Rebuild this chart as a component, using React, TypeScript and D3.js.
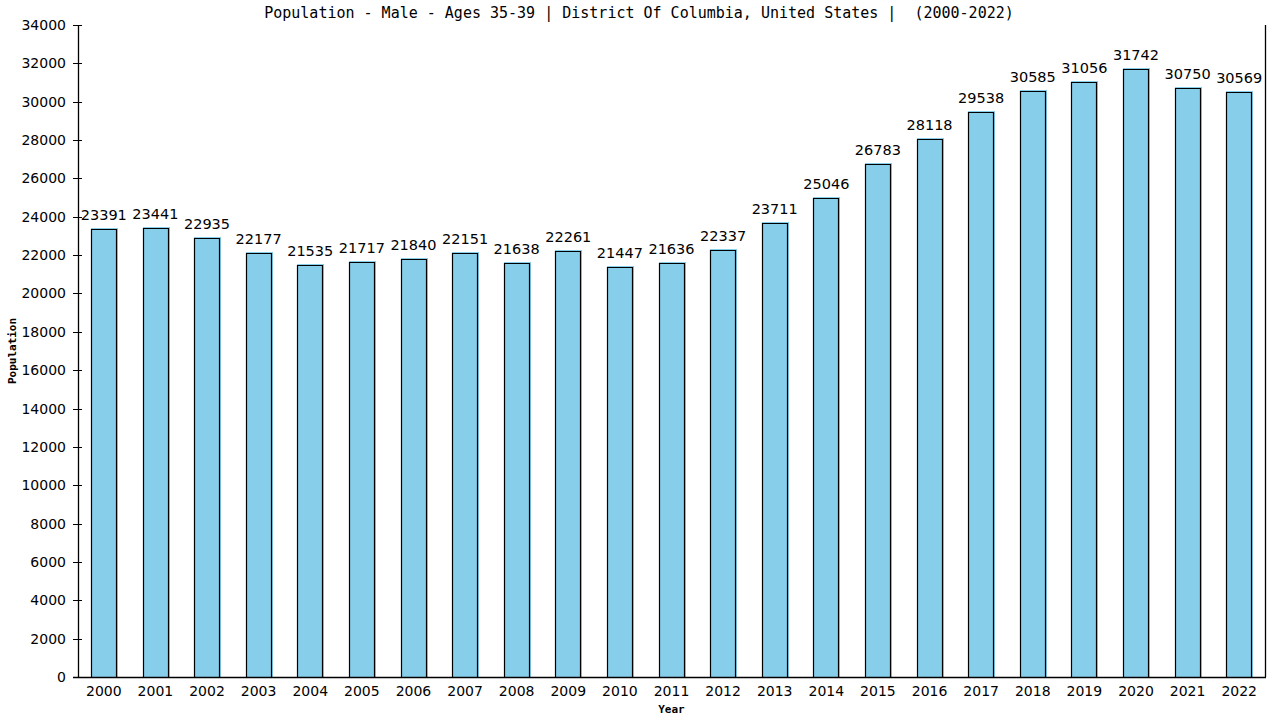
import React, { useEffect, useRef } from 'react';
import * as d3 from 'd3';

const years = [
  '2000', '2001', '2002', '2003', '2004', '2005', '2006', '2007', '2008', '2009', '2010', '2011',
  '2012', '2013', '2014', '2015', '2016', '2017', '2018', '2019', '2020', '2021', '2022'
];
const population = [
  23391, 23441, 22935, 22177, 21535, 21717, 21840, 22151, 21638, 22261, 21447, 21636,
  22337, 23711, 25046, 26783, 28118, 29538, 30585, 31056, 31742, 30750, 30569
];
const yTicks = d3.range(0, 34001, 2000);
const title = 'Population - Male - Ages 35-39 | District Of Columbia, United States |  (2000-2022)';

const width = 1280;
const height = 720;
const margins = { l: 78, t: 25, r: 15, b: 43 };

const BarChart = () => {
  const container = useRef(null);

  useEffect(() => {
    document.body.style.margin = '0';
    createChart();
  }, []);

  const createChart = () => {
    const svg = d3
      .select(container.current)
      .selectAll('svg')
      .data([0])
      .join('svg')
      .attr('width', width)
      .attr('height', height)
      .style('display', 'block')
      .style('background', '#fff');

    const plotwidth = width - margins.l - margins.r;
    const plotheight = height - margins.t - margins.b;

    const xScale = d3
      .scaleBand()
      .domain(years)
      .range([0, plotwidth])
      .paddingInner(0.5)
      .paddingOuter(0.25);
    const yScale = d3.scaleLinear().domain([0, 34000]).range([plotheight, 0]);

    const plotg = svg
      .selectAll('.plotg')
      .data([0])
      .join('g')
      .attr('class', 'plotg')
      .attr('transform', `translate(${margins.l},${margins.t})`);

    // bars: blue fill with black outline slightly inset
    plotg
      .selectAll('.bar-fill')
      .data(population)
      .join('rect')
      .attr('class', 'bar-fill')
      .attr('x', (d, i) => Math.round(xScale(years[i])))
      .attr('y', d => Math.round(yScale(d)))
      .attr('width', Math.round(xScale.bandwidth()) + 1)
      .attr('height', d => plotheight - Math.round(yScale(d)))
      .style('fill', '#87ceeb');

    plotg
      .selectAll('.bar-line')
      .data(population)
      .join('path')
      .attr('class', 'bar-line')
      .attr('d', (d, i) => {
        const x0 = Math.round(xScale(years[i])) + 0.5;
        const x1 = x0 + Math.round(xScale.bandwidth()) - 1;
        const y0 = Math.round(yScale(d)) + 1.5;
        return `M${x0},${plotheight}V${y0}H${x1}V${plotheight}`;
      })
      .style('fill', 'none')
      .style('stroke', '#000')
      .style('stroke-width', 1.2);

    plotg
      .selectAll('.bar-label')
      .data(population)
      .join('text')
      .attr('class', 'bar-label')
      .attr('x', (d, i) => xScale(years[i]) + xScale.bandwidth() / 2)
      .attr('y', d => yScale(d) - 8)
      .attr('text-anchor', 'middle')
      .style('font-family', 'DejaVu Sans')
      .style('font-size', '14.5px')
      .text(d => d);

    // y axis with crossing ticks
    const yaxisg = plotg.selectAll('.yaxisg').data([0]).join('g').attr('class', 'yaxisg');
    yaxisg
      .selectAll('.domain-line')
      .data([0])
      .join('line')
      .attr('class', 'domain-line')
      .attr('x1', 0.5)
      .attr('x2', 0.5)
      .attr('y1', 0)
      .attr('y2', plotheight)
      .style('stroke', '#000')
      .style('stroke-width', 1.3);
    yaxisg
      .selectAll('.ytick')
      .data(yTicks)
      .join('line')
      .attr('class', 'ytick')
      .attr('x1', -5)
      .attr('x2', 4)
      .attr('y1', d => Math.round(yScale(d)) + 0.5)
      .attr('y2', d => Math.round(yScale(d)) + 0.5)
      .style('stroke', '#000');
    yaxisg
      .selectAll('.ylabel')
      .data(yTicks)
      .join('text')
      .attr('class', 'ylabel')
      .attr('x', -12)
      .attr('y', d => yScale(d) + 5)
      .attr('text-anchor', 'end')
      .style('font-family', 'DejaVu Sans')
      .style('font-size', '14px')
      .text(d => d);

    // right border line
    plotg
      .selectAll('.right-line')
      .data([0])
      .join('line')
      .attr('class', 'right-line')
      .attr('x1', plotwidth + 0.5)
      .attr('x2', plotwidth + 0.5)
      .attr('y1', 0)
      .attr('y2', plotheight)
      .style('stroke', '#000')
      .style('stroke-width', 1.3);

    // x axis
    const xaxisg = plotg
      .selectAll('.xaxisg')
      .data([0])
      .join('g')
      .attr('class', 'xaxisg')
      .attr('transform', `translate(0,${plotheight})`);
    xaxisg
      .selectAll('.domain-line')
      .data([0])
      .join('line')
      .attr('class', 'domain-line')
      .attr('x1', -5)
      .attr('x2', plotwidth + 1)
      .attr('y1', 0.5)
      .attr('y2', 0.5)
      .style('stroke', '#000')
      .style('stroke-width', 1.3);
    xaxisg
      .selectAll('.xlabel')
      .data(years)
      .join('text')
      .attr('class', 'xlabel')
      .attr('x', d => xScale(d) + xScale.bandwidth() / 2)
      .attr('y', 19)
      .attr('text-anchor', 'middle')
      .style('font-family', 'DejaVu Sans')
      .style('font-size', '14px')
      .text(d => d);

    /* LABELS AND TITLES */
    svg
      .selectAll('.x-axis-text')
      .data([0])
      .join('text')
      .attr('class', 'x-axis-text')
      .attr('x', margins.l + plotwidth / 2)
      .attr('y', 713)
      .attr('text-anchor', 'middle')
      .style('font-family', 'DejaVu Sans Mono')
      .style('font-weight', 'bold')
      .style('font-size', '11px')
      .text('Year');

    svg
      .selectAll('.y-axis-text')
      .data([0])
      .join('text')
      .attr('class', 'y-axis-text')
      .attr('transform', `translate(16,${margins.t + plotheight / 2})rotate(270)`)
      .attr('text-anchor', 'middle')
      .style('font-family', 'DejaVu Sans Mono')
      .style('font-weight', 'bold')
      .style('font-size', '11px')
      .text('Population');

    svg
      .selectAll('.title-text')
      .data([0])
      .join('text')
      .attr('class', 'title-text')
      .attr('x', 639)
      .attr('y', 18)
      .attr('text-anchor', 'middle')
      .attr('xml:space', 'preserve')
      .style('white-space', 'pre')
      .style('font-family', 'DejaVu Sans Mono')
      .style('font-size', '15px')
      .text(title);
  };

  return <div className="chart-container" ref={container}></div>;
};

export default function App() {
  return <BarChart />;
}
